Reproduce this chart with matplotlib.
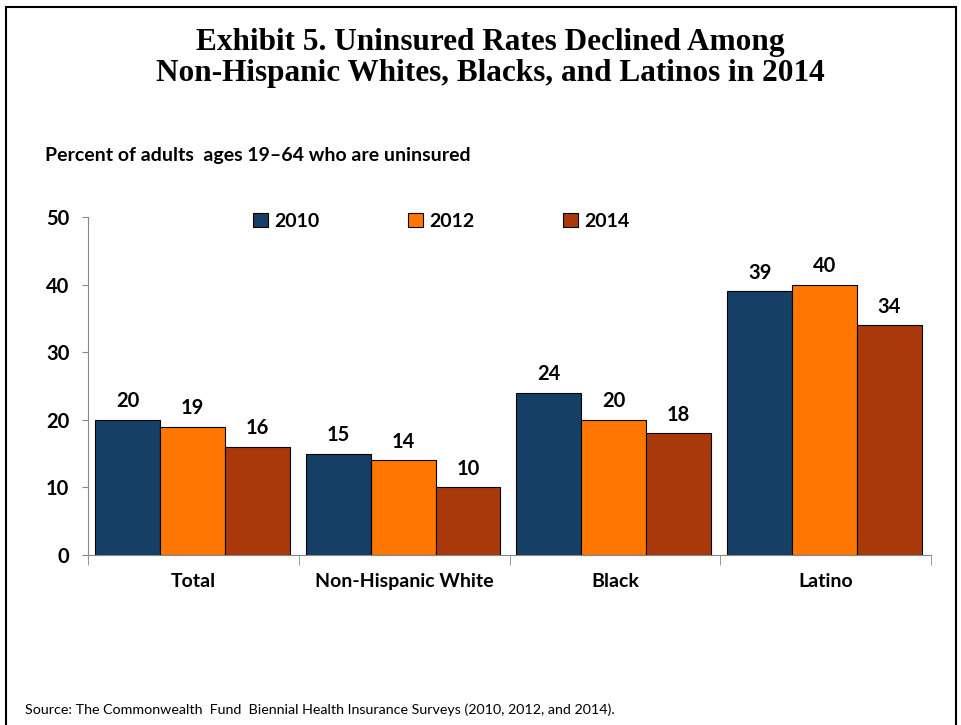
import numpy as np
import matplotlib
matplotlib.use('Agg')
from matplotlib import pyplot as plt
from matplotlib.patches import Rectangle

groups = ['Total', 'Non-Hispanic White', 'Black', 'Latino']
years = ['2010', '2012', '2014']
rates_2010 = [20, 15, 24, 39]
rates_2012 = [19, 14, 20, 40]
rates_2014 = [16, 10, 18, 34]
colors = ['#163f66', '#ff7600', '#a9390a']

title = 'Exhibit 5. Uninsured Rates Declined Among\nNon-Hispanic Whites, Blacks, and Latinos in 2014'
subtitle = 'Percent of adults  ages 19\u201364 who are uninsured'
source = 'Source: The Commonwealth  Fund  Biennial Health Insurance Surveys (2010, 2012, and 2014).'


def main():
    plt.rcParams['font.family'] = ['Lato', 'DejaVu Sans']
    fig = plt.figure(figsize=(9.61, 7.25), dpi=100)
    ax = fig.add_axes((0.0916, 0.2345, 0.8772, 0.4662))

    x = np.arange(len(groups))
    width = 0.308
    series = [rates_2010, rates_2012, rates_2014]
    for i, (year, vals) in enumerate(zip(years, series)):
        pos = x + (i - 1) * width - 0.005
        bars = ax.bar(pos, vals, width, color=colors[i], edgecolor='black', linewidth=0.8, label=year)
        for b, v in zip(bars, vals):
            ax.annotate(f'{v}', (b.get_x() + b.get_width() / 2, v), xytext=(0, 6),
                        textcoords='offset points', ha='center', va='bottom',
                        fontsize=14.5, fontweight='bold')

    ax.set_xlim(-0.5, len(groups) - 0.5)
    ax.set_ylim(0, 50)
    ax.set_yticks(range(0, 51, 10))
    ax.set_xticks(x)
    ax.set_xticklabels(groups, fontsize=14, fontweight='bold')
    ax.set_xticks(np.arange(-0.5, len(groups), 1), minor=True)
    ax.tick_params(axis='x', which='major', length=0, pad=13)
    ax.tick_params(axis='x', which='minor', length=7, color='#888888', direction='out')
    ax.tick_params(axis='y', length=4.5, color='#888888', labelsize=14.5, pad=9)
    for lab in ax.get_yticklabels():
        lab.set_fontweight('bold')
    for side in ['top', 'right']:
        ax.spines[side].set_visible(False)
    for side in ['left', 'bottom']:
        ax.spines[side].set_color('#888888')

    ax.legend(loc='upper center', bbox_to_anchor=(0.419, 1.065), ncol=3, frameon=False,
              handlelength=0.75, handleheight=0.75, handletextpad=0.3, columnspacing=4.6,
              prop={'size': 14, 'weight': 'bold'})

    fig.text(0.51, 0.962, title, ha='center', va='top', fontsize=22.5, fontweight='bold',
             family=['Liberation Serif', 'DejaVu Serif'], linespacing=1.1)
    fig.text(0.047, 0.786, subtitle, ha='left', va='center', fontsize=14, fontweight='bold')
    fig.text(0.026, 0.021, source, ha='left', va='center', fontsize=10.3)

    fig.patches.append(Rectangle((0.006, -0.02), 0.989, 1.011, transform=fig.transFigure,
                                 fill=False, edgecolor='black', linewidth=1.5))

    plt.savefig('out.png', dpi=100)


if __name__ == '__main__':
    main()
